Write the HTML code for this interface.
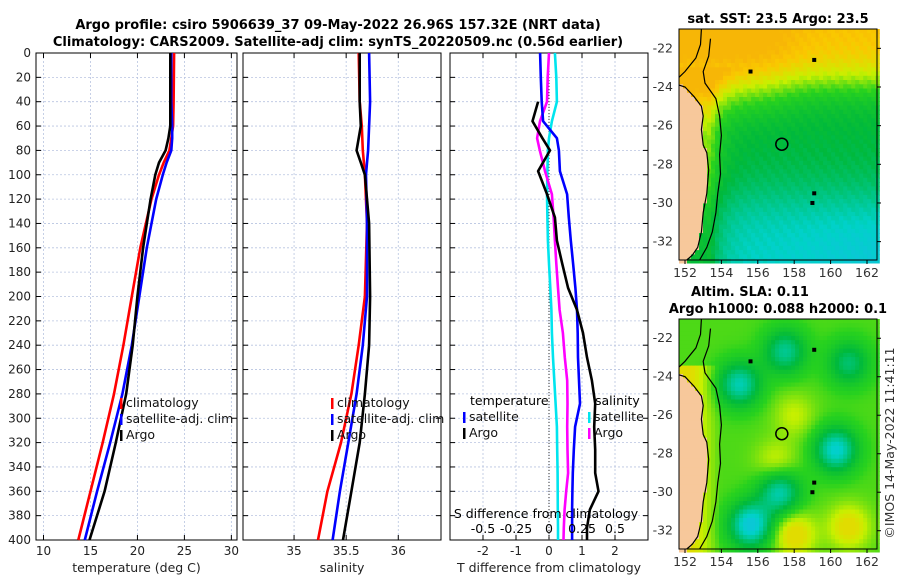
<!DOCTYPE html>
<html><head><meta charset="utf-8"><style>
body{margin:0;background:#fff;}
svg{display:block;font-family:"DejaVu Sans","Liberation Sans",sans-serif;}
</style></head><body>
<svg id="fig" width="900" height="580" xmlns="http://www.w3.org/2000/svg">
<text x="338" y="29" text-anchor="middle" font-size="13" font-weight="bold">Argo profile: csiro 5906639_37 09-May-2022 26.96S 157.32E (NRT data)</text>
<text x="338" y="46" text-anchor="middle" font-size="13" font-weight="bold">Climatology: CARS2009. Satellite-adj clim: synTS_20220509.nc (0.56d earlier)</text>
<g id="g"></g>
<text x="778" y="23" text-anchor="middle" font-size="13" font-weight="bold">sat. SST: 23.5 Argo: 23.5</text>
<text x="750" y="296" text-anchor="middle" font-size="13" font-weight="bold">Altim. SLA: 0.11</text>
<text x="778" y="313" text-anchor="middle" font-size="13" font-weight="bold">Argo h1000: 0.088 h2000: 0.1</text>
<text x="894" y="443" text-anchor="middle" font-size="12.5" fill="#333" transform="rotate(-90 894 443)">©IMOS 14-May-2022 11:41:11</text>
</svg>
<script>
// ---- profile data (depth in m) ----
const depthT = [0,40,60,70,80,90,100,120,160,200,240,280,320,360,400];
const climT  = [23.9,23.85,23.8,23.6,23.4,22.8,22.3,21.5,20.3,19.4,18.5,17.5,16.3,15.0,13.7];
const satT   = [23.6,23.6,23.7,23.7,23.6,23.1,22.7,22.0,21.0,20.2,19.4,18.4,17.1,15.7,14.4];
const argoT  = [23.5,23.5,23.5,23.3,23.0,22.3,21.9,21.4,20.6,20.0,19.5,18.8,17.7,16.5,14.9];
const depthS = [0,40,60,80,90,100,140,200,240,280,320,360,400];
const climS  = [35.62,35.63,35.65,35.66,35.67,35.68,35.70,35.68,35.62,35.55,35.45,35.32,35.23];
const satS   = [35.72,35.73,35.72,35.71,35.70,35.69,35.70,35.70,35.66,35.60,35.52,35.44,35.37];
const argoS  = [35.63,35.63,35.64,35.60,35.64,35.68,35.72,35.73,35.72,35.68,35.63,35.55,35.47];
const depthD = [0,20,40,56,70,80,97,116,135,154,173,193,211,230,250,269,288,307,326,345,360,375,390,400];
const diffTsat  = [-0.27,-0.25,-0.22,-0.18,0.24,0.3,0.33,0.55,0.6,0.66,0.73,0.8,0.85,0.87,0.88,0.91,0.94,0.79,0.75,0.72,0.71,0.7,0.7,0.7];
const diffTargo = [null,null,-0.33,-0.5,-0.2,0.03,-0.33,-0.06,0.18,0.24,0.4,0.58,0.85,1.03,1.15,1.3,1.4,1.37,1.4,1.4,1.5,1.24,1.15,1.15];
const diffSsat  = [0.045,0.055,0.06,0.022,0.0,-0.008,-0.012,-0.015,-0.012,-0.008,0.0,0.01,0.018,0.022,0.03,0.04,0.05,0.06,0.062,0.065,0.066,0.067,0.068,0.068];
const diffSargo = [0.0,-0.01,-0.015,-0.068,-0.09,-0.07,-0.03,0.022,0.035,0.045,0.055,0.068,0.08,0.105,0.12,0.138,0.14,0.138,0.14,0.145,0.13,0.118,0.112,0.11];
const depthTicks = [0,20,40,60,80,100,120,140,160,180,200,220,240,260,280,300,320,340,360,380,400];
const tTicks = [10,15,20,25,30];
const sTicks = [35,35.5,36];
const dTTicks = [-2,-1,0,1,2];
const dSTicks = [-0.5,-0.25,0,0.25,0.5];
const dSLabels = ["-0.5","-0.25","0","0.25","0.5"];

const NS="http://www.w3.org/2000/svg";
const G=document.getElementById('g');
function el(tag,attrs,parent){const e=document.createElementNS(NS,tag);for(const k in attrs)e.setAttribute(k,attrs[k]);(parent||G).appendChild(e);return e;}
const Y0=53,Y1=540;
const yD=d=>Y0+(d/400)*(Y1-Y0);

function panel(name,x0,x1,dom,ticks,labels,xlabel,withY){
  const xs=v=>x0+(v-dom[0])/(dom[1]-dom[0])*(x1-x0);
  const g=el('g',{});
  
  
  depthTicks.forEach(d=>{
    const l=el('line',{x1:x0,x2:x1,y1:yD(d),y2:yD(d),stroke:'#b8c4e0','stroke-width':0.8,'stroke-dasharray':'2,2'},g);
    
    
    el('line',{x1:x0,x2:x0+5,y1:yD(d),y2:yD(d),stroke:'#000'},g);
    el('line',{x1:x1-5,x2:x1,y1:yD(d),y2:yD(d),stroke:'#000'},g);
    if(withY){const t=el('text',{x:x0-5,y:yD(d)+4,'text-anchor':'end','font-size':12,fill:'#222'},g);t.textContent=d;
      }
  });
  ticks.forEach((v,i)=>{
    const l=el('line',{x1:xs(v),x2:xs(v),y1:Y0,y2:Y1,stroke:'#b8c4e0','stroke-width':0.8,'stroke-dasharray':'2,2'},g);
    
    
    el('line',{x1:xs(v),x2:xs(v),y1:Y1-5,y2:Y1,stroke:'#000'},g);
    el('line',{x1:xs(v),x2:xs(v),y1:Y0,y2:Y0+5,stroke:'#000'},g);
    const t=el('text',{x:xs(v),y:555,'text-anchor':'middle','font-size':12,fill:'#222'},g);t.textContent=labels[i];
    
  });
  const b=el('rect',{x:x0,y:Y0,width:x1-x0,height:Y1-Y0,fill:'none',stroke:'#000','stroke-width':1},g);
  
  const xl=el('text',{x:(x0+x1)/2,y:572,'text-anchor':'middle','font-size':12.5,fill:'#222'},g);xl.textContent=xlabel;
  
  return xs;
}
function line(xs,depths,vals,color,name){
  let d='';let pen=false;
  vals.forEach((v,i)=>{if(v===null){pen=false;return;}d+=(pen?'L':'M')+xs(v).toFixed(1)+','+yD(depths[i]).toFixed(1);pen=true;});
  const p=el('path',{d:d,fill:'none',stroke:color,'stroke-width':2.6,'stroke-linejoin':'round'});
  
}
function legend(x,y,items){
  items.forEach((it,i)=>{
    const yy=y+i*16;
    el('rect',{x:x,y:yy-9,width:2.5,height:11,fill:it[1]});
    const t=el('text',{x:x+6,y:yy,'font-size':12.5,fill:'#111'});t.textContent=it[0];
    
  });
}
const xT=panel('temperature-panel',36,237,[9.2,30.6],tTicks,tTicks.map(String),'temperature (deg C)',true);
line(xT,depthT,climT,'#f00','climatology-temperature-line');
line(xT,depthT,satT,'#00f','satellite-temperature-line');
line(xT,depthT,argoT,'#000','argo-temperature-line');
legend(120,407,[['climatology','#f00'],['satellite-adj. clim','#00f'],['Argo','#000']]);
const xS=panel('salinity-panel',243,441,[34.51,36.41],sTicks,['35','35.5','36'],'salinity',false);
line(xS,depthS,climS,'#f00','climatology-salinity-line');
line(xS,depthS,satS,'#00f','satellite-salinity-line');
line(xS,depthS,argoS,'#000','argo-salinity-line');
legend(331,407,[['climatology','#f00'],['satellite-adj. clim','#00f'],['Argo','#000']]);
const xDT=panel('difference-panel',450,648,[-3,3],dTTicks,dTTicks.map(String),'T difference from climatology',false);
const xDS=v=>xDT(v*4);
el('line',{x1:xDT(0),x2:xDT(0),y1:Y0,y2:Y1,stroke:'#333','stroke-width':1,'stroke-dasharray':'1,2'});
line(xDS,depthD,diffSsat,'#00e5ee','salinity-satellite-diff-line');
line(xDS,depthD,diffSargo,'#f0f','salinity-argo-diff-line');
line(xDT,depthD,diffTsat,'#00f','temperature-satellite-diff-line');
line(xDT,depthD,diffTargo,'#000','temperature-argo-diff-line');
{const t=el('text',{x:470,y:405,'font-size':12.5});t.textContent='temperature';
 const t2=el('text',{x:595,y:405,'font-size':12.5});t2.textContent='salinity';}
legend(463,421,[['satellite','#00f'],['Argo','#000']]);
legend(588,421,[['satellite','#00e5ee'],['Argo','#f0f']]);
{const t=el('text',{x:546,y:518,'text-anchor':'middle','font-size':12.5});t.textContent='S difference from climatology';}
dSTicks.forEach((v,i)=>{const t=el('text',{x:xDS(v),y:533,'text-anchor':'middle','font-size':12.5});t.textContent=dSLabels[i];
  });

// ---- maps ----
const lonTicks=[152,154,156,158,160,162];
const latTicks=[-22,-24,-26,-28,-30,-32];
const coastPts=[[151.67,-23.9],[152.0,-24.0],[152.5,-24.5],[152.9,-25.0],[153.0,-25.5],[152.9,-26.2],[153.0,-27.0],[153.2,-27.4],[153.3,-28.3],[153.2,-29.5],[153.0,-30.5],[152.9,-31.5],[152.7,-32.3],[152.4,-32.7],[152.1,-32.95]];
const nearPts=[[152.9,-21.0],[152.85,-21.8],[152.6,-22.5],[152.0,-23.2],[151.67,-23.5]];
const isoPts=[[153.4,-21.5],[153.3,-22.4],[153.0,-23.2],[153.1,-23.8],[153.7,-24.6],[153.9,-25.5],[154.0,-26.5],[153.9,-27.5],[153.95,-28.5],[153.8,-29.5],[153.7,-30.5],[153.5,-31.5],[153.2,-32.3],[152.8,-32.95]];
function coastLon(lat){
  if(lat>-23.9)return 0;
  for(let i=1;i<coastPts.length;i++){const a=coastPts[i-1],b=coastPts[i];if(lat<=a[1]&&lat>=b[1]){const t=(lat-a[1])/(b[1]-a[1]);return a[0]+(b[0]-a[0])*t;}}
  return 152.1;
}
function mapPanel(name,x0,y0,x1,y1,colorFn){
  const lon0=151.67,lon1=162.55,lat0=-21.0,lat1=-32.95;
  const X=lo=>x0+(lo-lon0)/(lon1-lon0)*(x1-x0);
  const Y=la=>y0+(la-lat0)/(lat1-lat0)*(y1-y0);
  const g=el('g',{});
  
  const step=0.22;
  for(let la=lat0;la>lat1;la-=step){for(let lo=lon0;lo<lon1;lo+=step){
    const land=lo+step/2<coastLon(la-step/2);
    el('rect',{x:X(lo).toFixed(1),y:Y(la).toFixed(1),width:(X(lo+step)-X(lo)+0.6).toFixed(1),height:(Y(la-step)-Y(la)+0.6).toFixed(1),fill:land?'#f7c89b':colorFn(lo+step/2,la-step/2)},g);
  }}
  const pth=pts=>pts.map((p,i)=>(i?'L':'M')+X(p[0]).toFixed(1)+','+Y(p[1]).toFixed(1)).join('');
  [[coastPts,'coastline'],[nearPts,'coastline-north'],[isoPts,'isobath-contour']].forEach(a=>{
    const p=el('path',{d:pth(a[0]),fill:'none',stroke:'#000','stroke-width':1.2},g);
    });
  [[155.6,-23.2],[159.1,-29.5],[159,-30],[159.1,-22.6]].forEach(p=>el('rect',{x:X(p[0])-2,y:Y(p[1])-2,width:4,height:4,fill:'#000'},g));
  const m=el('circle',{cx:X(157.32),cy:Y(-26.96),r:6,fill:'none',stroke:'#000','stroke-width':1.5},g);
  
  el('rect',{x:x0,y:y0,width:x1-x0,height:y1-y0,fill:'none',stroke:'#000'},g);
  lonTicks.forEach(lo=>{el('line',{x1:X(lo),x2:X(lo),y1:y1,y2:y1+4,stroke:'#000'},g);
    const t=el('text',{x:X(lo),y:y1+17,'text-anchor':'middle','font-size':12.5,fill:'#333'},g);t.textContent=lo;
    });
  latTicks.forEach(la=>{el('line',{x1:x1,x2:x1+4,y1:Y(la),y2:Y(la),stroke:'#000'},g);
    const t=el('text',{x:x0-6,y:Y(la)+4,'text-anchor':'end','font-size':12.5,fill:'#333'},g);t.textContent=la;
    });
}
function mix(a,b,t){t=Math.max(0,Math.min(1,t));return a.map((v,i)=>Math.round(v+(b[i]-v)*t));}
function ramp(v){const st=[[0,[40,170,250]],[0.2,[0,210,200]],[0.4,[0,185,60]],[0.55,[40,210,30]],[0.68,[200,240,0]],[0.8,[250,200,0]],[1,[240,140,20]]];
  for(let i=1;i<st.length;i++){if(v<=st[i][0]){const t=(v-st[i-1][0])/(st[i][0]-st[i-1][0]);const c=mix(st[i-1][1],st[i][1],t);return 'rgb('+c+')';}}return 'rgb('+st[6][1]+')';}
const sig=x=>1/(1+Math.exp(-x));
function sst(lo,la){
  let v=0.40+0.42*sig((la+23.8)/0.7)-0.2*sig((-la-29.8)/0.9)-0.06*sig((lo-159)/1.5)*sig((-la-30.5)/0.8);
  if(la<-23)v+=0.22*Math.exp(-Math.max(0,lo-153.4)/0.7);
  v+=0.1*sig((la+25.5)/0.5)*sig((157.5-lo)/0.8);
  v+=0.015*Math.sin(lo*9+la*7);
  return ramp(Math.max(0.12,Math.min(0.86,v)));}
const blobs=[[157.5,-22.7,-0.3],[155,-24.4,-0.35],[161,-23.3,-0.25],[160.3,-27.8,-0.4],[157.2,-30,-0.35],[155.6,-31.7,-0.45],[158,-26,0.1],[158,-32.2,0.2],[161,-31.8,0.18],[157,-28.5,0.12]];
function sla(lo,la){let v=0.58;blobs.forEach(b=>{v+=b[2]*Math.exp(-((lo-b[0])**2+(la-b[1])**2)/1.3);});
  if(lo<154&&la<-23.5)v+=0.1*(154-lo);return ramp(Math.max(0.15,Math.min(0.74,v)));}
mapPanel('sst-map',679,29,877,260,sst);
mapPanel('sla-map',679,319,877,549,sla);
</script>
</body></html>
